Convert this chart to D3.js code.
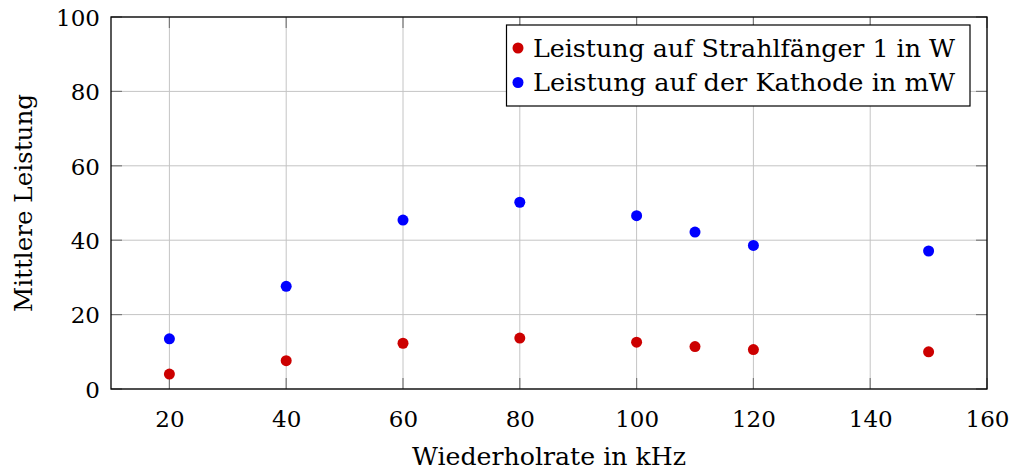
<!DOCTYPE html>
<html>
<head>
<meta charset="utf-8">
<script src="https://cdn.jsdelivr.net/npm/d3@7"></script>
<style>
  html, body { margin: 0; padding: 0; background: #fff; }
</style>
</head>
<body>
<svg id="chart" width="1012" height="470"></svg>
<script>
// Repetition rate (kHz)
const rates = [20, 40, 60, 80, 100, 110, 120, 150];
// Power on beam dump 1 (W)
const strahlfaenger = [4.0, 7.6, 12.3, 13.7, 12.6, 11.4, 10.6, 10.0];
// Power on the cathode (mW)
const kathode = [13.5, 27.6, 45.4, 50.2, 46.6, 42.2, 38.6, 37.1];

const xTicks = [20, 40, 60, 80, 100, 120, 140, 160];
const yTicks = [0, 20, 40, 60, 80, 100];

const seriesNames = ["Leistung auf Strahlfänger 1 in W", "Leistung auf der Kathode in mW"];
const seriesColors = ["#cc0000", "#0000ff"];

const FONT = "'DejaVu Serif', serif";
const FS = 24;
const TICK_FS = 23;

const margin = { left: 111, right: 25, top: 17, bottom: 81 };
const W = 1012, H = 470;
const iw = W - margin.left - margin.right;
const ih = H - margin.top - margin.bottom;

const svg = d3.select("#chart");
const g = svg.append("g").attr("transform", `translate(${margin.left},${margin.top})`);

const x = d3.scaleLinear().domain([10, 160]).range([0, iw]);
const y = d3.scaleLinear().domain([0, 100]).range([ih, 0]);

// grid
g.append("g").selectAll("line").data(xTicks).join("line")
  .attr("x1", d => x(d)).attr("x2", d => x(d)).attr("y1", 0).attr("y2", ih)
  .attr("stroke", "#c4c4c4").attr("stroke-width", 1);
g.append("g").selectAll("line").data(yTicks).join("line")
  .attr("x1", 0).attr("x2", iw).attr("y1", d => y(d)).attr("y2", d => y(d))
  .attr("stroke", "#c4c4c4").attr("stroke-width", 1);

// inward tick marks on all four sides
const tl = 11;
const tickStyle = s => s.attr("stroke", "#7a7a7a").attr("stroke-width", 1.2);
g.append("g").selectAll("line").data(xTicks).join("line")
  .attr("x1", d => x(d)).attr("x2", d => x(d)).attr("y1", ih).attr("y2", ih - tl).call(tickStyle);
g.append("g").selectAll("line").data(xTicks).join("line")
  .attr("x1", d => x(d)).attr("x2", d => x(d)).attr("y1", 0).attr("y2", tl).call(tickStyle);
g.append("g").selectAll("line").data(yTicks).join("line")
  .attr("x1", 0).attr("x2", tl).attr("y1", d => y(d)).attr("y2", d => y(d)).call(tickStyle);
g.append("g").selectAll("line").data(yTicks).join("line")
  .attr("x1", iw).attr("x2", iw - tl).attr("y1", d => y(d)).attr("y2", d => y(d)).call(tickStyle);

// tick labels from d3 axes (tick lines hidden)
const xAxis = d3.axisBottom(x).tickValues(xTicks).tickSize(0).tickPadding(0);
const gx = g.append("g").attr("transform", `translate(0,${ih})`).call(xAxis)
  .attr("font-family", FONT).attr("font-size", TICK_FS);
gx.select(".domain").remove();
gx.selectAll("text").attr("dy", null).attr("y", 37.5).attr("fill", "#000");

const yAxis = d3.axisLeft(y).tickValues(yTicks).tickSize(0).tickPadding(0);
const gy = g.append("g").call(yAxis)
  .attr("font-family", FONT).attr("font-size", TICK_FS);
gy.select(".domain").remove();
gy.selectAll("text").attr("x", -11).attr("dy", "0.36em").attr("fill", "#000");

// frame
g.append("rect").attr("x", 0).attr("y", 0).attr("width", iw).attr("height", ih)
  .attr("fill", "none").attr("stroke", "#000").attr("stroke-width", 1.3);

// points
const series = [strahlfaenger, kathode];
series.forEach((vals, i) => {
  g.append("g").selectAll("circle").data(rates.map((r, j) => [r, vals[j]])).join("circle")
    .attr("cx", d => x(d[0])).attr("cy", d => y(d[1])).attr("r", 5.5)
    .attr("fill", seriesColors[i]);
});

// axis titles
svg.append("text").attr("x", margin.left + iw / 2).attr("y", 465)
  .attr("text-anchor", "middle").attr("font-family", FONT).attr("font-size", FS)
  .attr("textLength", 274).attr("lengthAdjust", "spacingAndGlyphs")
  .text("Wiederholrate in kHz");
svg.append("text").attr("transform", `translate(32,${margin.top + ih / 2}) rotate(-90)`)
  .attr("text-anchor", "middle").attr("font-family", FONT).attr("font-size", FS)
  .attr("textLength", 218).attr("lengthAdjust", "spacingAndGlyphs")
  .text("Mittlere Leistung");

// legend
const lg = svg.append("g");
lg.append("rect").attr("x", 506.5).attr("y", 25).attr("width", 463.5).attr("height", 81)
  .attr("fill", "#fff").attr("stroke", "#000").attr("stroke-width", 1.2);
seriesNames.forEach((name, i) => {
  const cy = 48 + i * 34.5;
  lg.append("circle").attr("cx", 518).attr("cy", cy).attr("r", 5.5).attr("fill", seriesColors[i]);
  lg.append("text").attr("x", 533).attr("y", cy + 8.5)
    .attr("font-family", FONT).attr("font-size", FS)
    .attr("textLength", 422).attr("lengthAdjust", "spacingAndGlyphs")
    .text(name);
});
</script>
</body>
</html>
